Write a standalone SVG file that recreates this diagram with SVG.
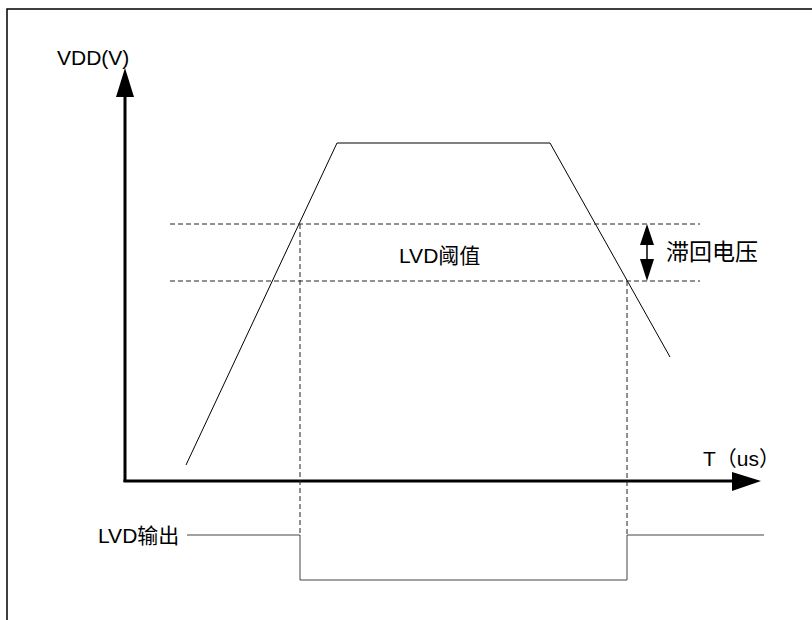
<svg xmlns="http://www.w3.org/2000/svg" width="812" height="620" viewBox="0 0 812 620">
<style>
.t{font-family:"Liberation Sans","Noto Sans CJK SC",Arial,sans-serif;font-size:21px;fill:#000}
.dash{stroke:#222;stroke-width:1;stroke-dasharray:5,3;fill:none}
.thin{stroke:#000;stroke-width:1;fill:none}
.ax{stroke:#000;stroke-width:3;fill:none}
</style>
<rect x="0" y="0" width="812" height="620" fill="#fff"/>
<rect x="7" y="9" width="900" height="700" fill="none" stroke="#000" stroke-width="1.5"/>
<g id="connectors">
<g id="y-axis">
<line class="ax" x1="125" y1="482" x2="125" y2="95"/>
<polygon points="125,68 116,97 134,97" fill="#000"/>
</g>
<g id="x-axis">
<line class="ax" x1="123.5" y1="481" x2="734" y2="481"/>
<polygon points="761,481 732,472 732,491" fill="#000"/>
</g>
<polyline id="vdd-curve" class="thin" points="186,465 337,143 550,143 670,357"/>
<line class="dash" x1="170" y1="224" x2="700" y2="224"/>
<line class="dash" x1="170" y1="281" x2="700" y2="281"/>
<line class="dash" x1="300" y1="224" x2="300" y2="535"/>
<line class="dash" x1="627" y1="281" x2="627" y2="535"/>
<g id="hysteresis-arrow">
<line x1="647" y1="240" x2="647" y2="265" stroke="#000" stroke-width="1.5"/>
<polygon points="647,224 640,245 654,245" fill="#000"/>
<polygon points="647,281 640,259 654,259" fill="#000"/>
</g>
<polyline id="lvd-output" points="187,535 300,535 300,580 627,580 627,535 764,535" fill="none" stroke="#444" stroke-width="1"/>
</g>
<g id="label-vdd"><text class="t" x="57" y="65">VDD(V)</text></g>
<g id="label-t"><text class="t" x="703" y="466">T（us）</text></g>
<g id="label-threshold"><text class="t" x="399" y="263">LVD阈值</text></g>
<g id="label-hyst"><text class="t" x="666" y="260" style="font-size:23px">滞回电压</text></g>
<g id="label-output"><text class="t" x="98" y="543">LVD输出</text></g>
</svg>
